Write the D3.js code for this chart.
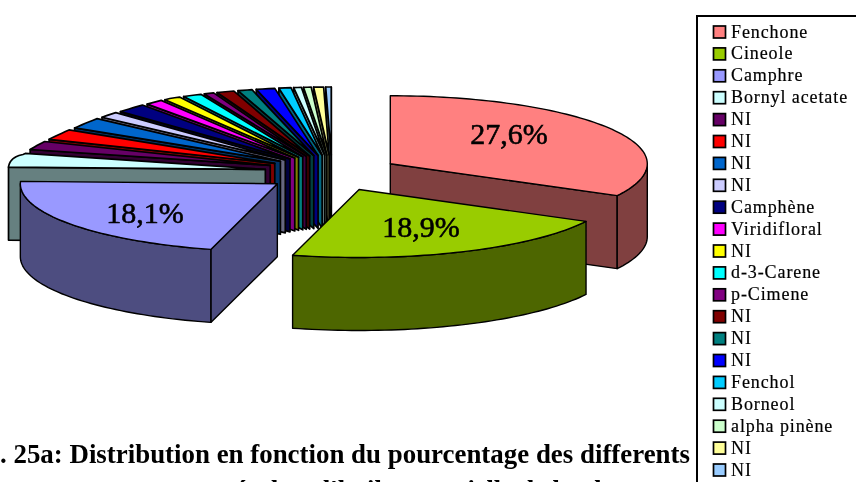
<!DOCTYPE html>
<html><head><meta charset="utf-8">
<script src="https://cdnjs.cloudflare.com/ajax/libs/d3/7.8.5/d3.min.js"></script>
<style>
html,body{margin:0;padding:0;background:#fff;overflow:hidden}
svg{display:block;filter:blur(0.5px)}
text{font-family:"Liberation Serif",serif;fill:#000}
</style></head><body>
<svg id="c" width="856" height="482"></svg>
<script>
const categories = ["Fenchone","Cineole","Camphre","Bornyl acetate","NI","NI","NI","NI","Camphène","Viridifloral","NI","d-3-Carene","p-Cimene","NI","NI","NI","Fenchol","Borneol","alpha pinène","NI","NI"];
const values = [27.6,18.9,18.1,7.6,3.1,3.3,3.1,1.7,2.5,1.5,1.5,1.7,0.9,1.6,1.3,1.7,1.1,0.7,0.7,0.9,0.5];
const colors = ["#FF8080","#99CC00","#9999FF","#CCFFFF","#660066","#FF0000","#0066CC","#CCCCFF","#000080","#FF00FF","#FFFF00","#00FFFF","#800080","#800000","#008080","#0000FF","#00CCFF","#CCFFFF","#CCFFCC","#FFFF99","#99CCFF"];
const valueLabels = ["27,6%","18,9%","18,1%"];
const captionLine1 = ". 25a: Distribution en fonction du pourcentage des differents";
const captionLine2 = "composés dans l'huile essentielle de la plante";

const svg = d3.select("#c");
const rad = Math.PI/180;
// perspective warp of the true pie angle to the drawn ellipse parameter
const warp = d3.scaleLinear().domain([0,99.36,167.4,232.56,360]).range([0,118,195,272,360]);
// the far-left rim of the reference is flatter than a plain ellipse
const rimSquash = d3.scaleLinear().domain([0,272,290,300,315,330,360]).range([1,1,.65,.75,.9,1,1]);
const pie = d3.pie().sort(null).value(d=>d)(values);
const cx=332, cy=173, rx=257, ry=68, explode=68, depth=73;
const px = a => rx*Math.sin(a*rad), py = a => -ry*Math.cos(a*rad)*rimSquash(a);
const line = d3.line();

const slices = pie.map((p,i)=>{
  const a0=warp(p.startAngle/rad), a1=warp(p.endAngle/rad), mid=(a0+a1)/2;
  return {i,a0,a1,mid,ax:cx+explode*Math.sin(mid*rad),ay:cy-explode*(ry/rx)*Math.cos(mid*rad)};
});
const arcPts=(s,a,b)=>{
  const n=Math.max(2,Math.ceil((b-a)/1.5)), out=[];
  for(let k=0;k<=n;k++){const t=a+(b-a)*k/n; out.push([s.ax+px(t),s.ay+py(t)]);}
  return out;
};
const dark=c=>{const r=d3.rgb(c);return d3.rgb(r.r/2,r.g/2,r.b/2).formatHex();};
const poly=(pts,fill,w)=>svg.append("path").attr("d",line(pts)+"Z").attr("fill",fill)
  .attr("stroke","#000").attr("stroke-width",w).attr("stroke-linejoin","round");

const order=[...slices.slice(3).reverse(),slices[0],slices[2],slices[1]];
order.forEach(s=>{
  const col=colors[s.i], side=dark(col), w=s.i>=3?1.7:1.4;
  const apex=[s.ax,s.ay];
  if(Math.sin(s.a0*rad)<0){ const p=[s.ax+px(s.a0),s.ay+py(s.a0)];
    poly([apex,p,[p[0],p[1]+depth],[apex[0],apex[1]+depth]],side,w); }
  if(Math.sin(s.a1*rad)>0){ const p=[s.ax+px(s.a1),s.ay+py(s.a1)];
    poly([apex,p,[p[0],p[1]+depth],[apex[0],apex[1]+depth]],side,w); }
  const f0=Math.max(s.a0,90), f1=Math.min(s.a1,270);
  if(f1>f0){ const top=arcPts(s,f0,f1);
    poly(top.concat(top.map(q=>[q[0],q[1]+depth]).reverse()),side,w); }
  poly([apex,...arcPts(s,s.a0,s.a1)],col,w);
});

// value labels
const labelPos=[[509,144],[421,237],[145,223]];
valueLabels.forEach((t,i)=>svg.append("text").attr("x",labelPos[i][0]).attr("y",labelPos[i][1])
  .attr("text-anchor","middle").attr("font-size",30).attr("stroke","#000").attr("stroke-width",0.6).text(t));

// legend
svg.append("rect").attr("x",697).attr("y",16).attr("width",200).attr("height",500)
  .attr("fill","#fff").attr("stroke","#000").attr("stroke-width",2);
const rowY=d3.scaleLinear().domain([0,categories.length-1]).range([32,470]);
categories.forEach((c,i)=>{
  svg.append("rect").attr("x",713.5).attr("y",rowY(i)-6).attr("width",12).attr("height",12)
    .attr("fill",colors[i]).attr("stroke","#000").attr("stroke-width",1.7);
  svg.append("text").attr("x",731).attr("y",rowY(i)+5.5).attr("font-size",18).attr("letter-spacing",0.9)
    .attr("stroke","#000").attr("stroke-width",0.2).text(c);
});

// caption
svg.append("text").attr("x",0).attr("y",463).attr("font-size",27).attr("font-weight","bold")
  .attr("textLength",690).attr("lengthAdjust","spacingAndGlyphs").text(captionLine1);
svg.append("text").attr("x",150).attr("y",498.5).attr("font-size",27).attr("font-weight","bold")
  .attr("textLength",500).attr("lengthAdjust","spacingAndGlyphs").text(captionLine2);
</script></body></html>
